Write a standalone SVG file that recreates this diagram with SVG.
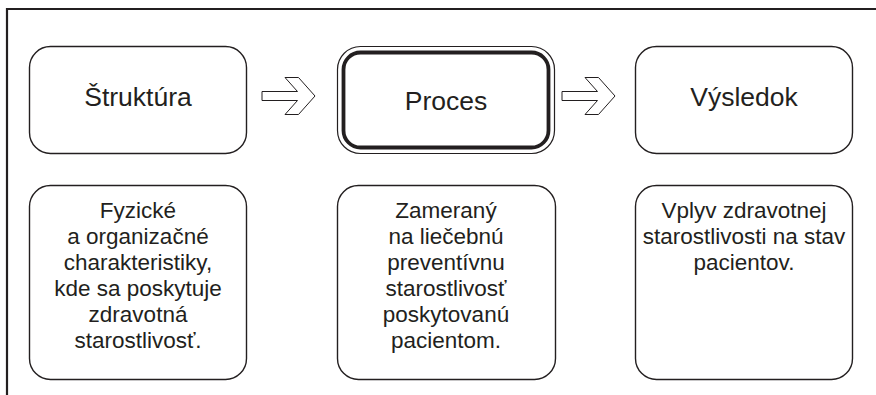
<svg xmlns="http://www.w3.org/2000/svg" width="876" height="395" viewBox="0 0 876 395">
<style>
.box{fill:#fff;stroke:#231f20;stroke-width:1.4}
.thin{fill:none;stroke:#231f20;stroke-width:1.2}
.thick{fill:none;stroke:#231f20;stroke-width:3.8}
.title{font-family:"Liberation Sans",Arial,sans-serif;font-size:26.5px;fill:#231f20;text-anchor:middle}
.body{font-family:"Liberation Sans",Arial,sans-serif;font-size:22.5px;fill:#231f20;text-anchor:middle}
.arrow{fill:#fff;stroke:#231f20;stroke-width:1}
</style>
<defs>
<path id="arr" d="M0,-4.5 L35.5,-4.5 L23,-18.5 L36.5,-18.5 L53,0 L36.5,18.5 L23,18.5 L35.5,4.5 L0,4.5 Z"/>
</defs>
<rect width="876" height="395" fill="#fff"/>
<g id="frame">
<path d="M7,395 L7,9 L876,9" fill="none" stroke="#231f20" stroke-width="2.2"/>
</g>
<g id="struktura">
<rect class="box" x="29.5" y="46.5" width="217" height="107" rx="21"/>
<text class="title" x="138" y="106">Štruktúra</text>
</g>
<g id="proces">
<rect class="thin" x="337.5" y="46.5" width="217" height="107" rx="23"/>
<rect class="thick" x="343.5" y="52.5" width="205" height="95" rx="17"/>
<text class="title" x="446" y="110">Proces</text>
</g>
<g id="vysledok">
<rect class="box" x="635.5" y="46.5" width="217" height="107" rx="21"/>
<text class="title" x="744" y="106">Výsledok</text>
</g>
<g id="struktura-popis">
<rect class="box" x="29.5" y="185.5" width="217" height="194" rx="21"/>
<text class="body" x="138" y="218">Fyzické</text>
<text class="body" x="138" y="244">a organizačné</text>
<text class="body" x="138" y="270">charakteristiky,</text>
<text class="body" x="138" y="296">kde sa poskytuje</text>
<text class="body" x="138" y="322">zdravotná</text>
<text class="body" x="138" y="348">starostlivosť.</text>
</g>
<g id="proces-popis">
<rect class="box" x="337.5" y="185.5" width="218" height="194" rx="21"/>
<text class="body" x="446" y="218">Zameraný</text>
<text class="body" x="446" y="244">na liečebnú</text>
<text class="body" x="446" y="270">preventívnu</text>
<text class="body" x="446" y="296">starostlivosť</text>
<text class="body" x="446" y="322">poskytovanú</text>
<text class="body" x="446" y="348">pacientom.</text>
</g>
<g id="vysledok-popis">
<rect class="box" x="635.5" y="185.5" width="217" height="194" rx="21"/>
<text class="body" x="744" y="218">Vplyv zdravotnej</text>
<text class="body" x="744" y="244">starostlivosti na stav</text>
<text class="body" x="744" y="270">pacientov.</text>
</g>
<g id="connectors">
<use href="#arr" class="arrow" x="262" y="96"/>
<use href="#arr" class="arrow" x="562" y="96"/>
</g>
</svg>
